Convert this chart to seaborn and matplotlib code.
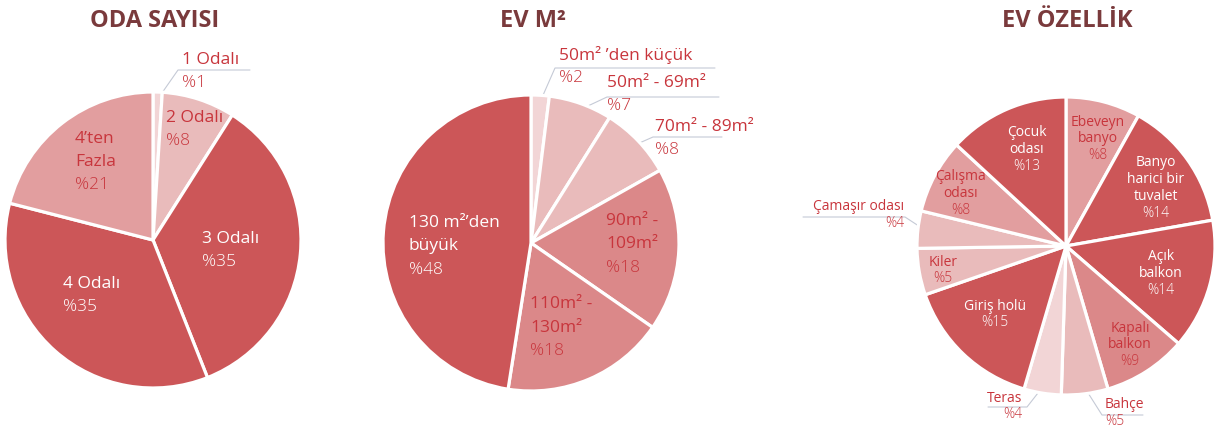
import matplotlib
matplotlib.use("Agg")
import matplotlib.pyplot as plt
import seaborn as sns
import numpy as np

W, H = 1220, 429

# --- data ---
oda_names = ["1 Odalı", "2 Odalı", "3 Odalı", "4 Odalı", "4’ten\nFazla"]
oda_values = [1, 8, 35, 35, 21]

m2_names = ["50m² ’den küçük", "50m² - 69m²", "70m² - 89m²",
            "90m² -\n109m²", "110m² -\n130m²", "130 m²’den\nbüyük"]
m2_values = [2, 7, 8, 18, 18, 48]

oz_names = ["Ebeveyn\nbanyo", "Banyo\nharici bir\ntuvalet", "Açık\nbalkon",
            "Kapalı\nbalkon", "Bahçe", "Teras", "Giriş holü", "Kiler",
            "Çamaşır odası", "Çalışma\nodası", "Çocuk\nodası"]
oz_values = [8, 14, 14, 9, 5, 4, 15, 5, 4, 8, 13]

titles = ["ODA SAYISI", "EV M²", "EV ÖZELLİK"]

# --- styles ---
DARK = "#cc5658"
MED1 = "#e29e9f"
MED2 = "#db8889"
LIGHT = "#e9bbbb"
VLIGHT = "#f2d5d6"
RED_TXT = "#c8353c"
TITLE_C = "#7a3a3c"
LEADER_C = "#c5cad6"

oda_colors = [VLIGHT, LIGHT, DARK, DARK, MED1]
m2_colors = [VLIGHT, LIGHT, LIGHT, MED2, MED2, DARK]
oz_colors = [MED1, DARK, DARK, MED2, LIGHT, VLIGHT, DARK, LIGHT, LIGHT, MED1, DARK]

# layout in pixels (x, first line y, ha, text colour, leader elbow, leader end x)
oda_layout = [
    (182, 60, "left", RED_TXT, (178, 70), 250),
    (166, 118, "left", RED_TXT, None, None),
    (202, 239, "left", "white", None, None),
    (63, 284, "left", "white", None, None),
    (75, 139, "left", RED_TXT, None, None),
]
m2_layout = [
    (559, 55, "left", RED_TXT, (555, 68), 715),
    (607, 83, "left", RED_TXT, (607, 97), 719),
    (655, 127, "left", RED_TXT, (653, 137), 722),
    (606, 221, "left", RED_TXT, None, None),
    (530, 304, "left", RED_TXT, None, None),
    (409, 223, "left", "white", None, None),
]
oz_layout = [
    (1098, 122, "center", RED_TXT, None, None),
    (1156, 163, "center", "white", None, None),
    (1161, 257, "center", "white", None, None),
    (1130, 328, "center", RED_TXT, None, None),
    (1105, 405, "left", RED_TXT, (1102, 415), 1143),
    (1022, 398, "right", RED_TXT, (1027, 407), 988),
    (995, 306, "center", "white", None, None),
    (943, 262, "center", RED_TXT, None, None),
    (904, 207, "right", RED_TXT, (905, 217), 803),
    (961, 177, "center", RED_TXT, None, None),
    (1027, 133, "center", "white", None, None),
]

charts = [
    dict(names=oda_names, values=oda_values, colors=oda_colors, layout=oda_layout,
         center=(153, 240), radius=148, size=12.5, step=23, title_x=155),
    dict(names=m2_names, values=m2_values, colors=m2_colors, layout=m2_layout,
         center=(531, 243), radius=148, size=12.5, step=23.5, title_x=533),
    dict(names=oz_names, values=oz_values, colors=oz_colors, layout=oz_layout,
         center=(1066, 246), radius=149, size=10, step=16.7, title_x=1067),
]

sns.set_theme(style="white")
plt.rcParams["font.family"] = ["Open Sans", "DejaVu Sans"]

fig = plt.figure(figsize=(W / 100, H / 100), dpi=100)
ax = fig.add_axes([0, 0, 1, 1])

for ch, title in zip(charts, titles):
    cx, cy = ch["center"]
    R = ch["radius"]
    wedges, _ = ax.pie(ch["values"], colors=ch["colors"], startangle=90,
                       counterclock=False, center=(cx, H - cy), radius=R,
                       wedgeprops=dict(edgecolor="white", linewidth=2.3))
    for w, name, v, lay in zip(wedges, ch["names"], ch["values"], ch["layout"]):
        x, y0, ha, col, elbow, end_x = lay
        lines = name.split("\n") + [f"%{v}"]
        for i, line in enumerate(lines):
            last = i == len(lines) - 1
            ax.text(x, H - (y0 + i * ch["step"]), line, ha=ha, va="center",
                    fontsize=ch["size"], color=col,
                    fontweight="light" if last else "medium")
        if elbow is not None:
            th = np.deg2rad((w.theta1 + w.theta2) / 2)
            sx = cx + 0.95 * R * np.cos(th)
            sy = (H - cy) + 0.95 * R * np.sin(th)
            ax.plot([sx, elbow[0], end_x], [sy, H - elbow[1], H - elbow[1]],
                    color=LEADER_C, lw=0.8, zorder=0.5)
    ax.text(ch["title_x"], H - 21, title, ha="center", va="center",
            fontsize=17, fontweight="bold", color=TITLE_C)

ax.set_xlim(0, W)
ax.set_ylim(0, H)
ax.set_aspect("equal")
ax.axis("off")

fig.savefig("out.png", dpi=100, facecolor="white")
